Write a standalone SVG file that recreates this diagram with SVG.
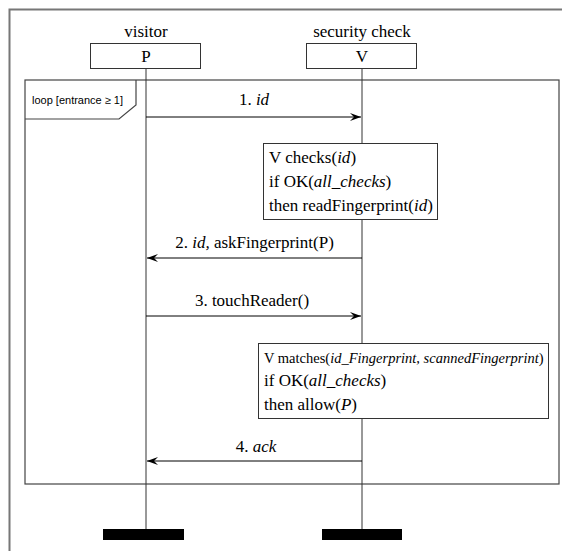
<svg xmlns="http://www.w3.org/2000/svg" width="562" height="551" viewBox="0 0 562 551">
<style>
.t{font-family:"Liberation Serif","Times New Roman",serif;font-size:17px;fill:#000}
.i{font-style:italic}
.box{fill:#fff;stroke:#333;stroke-width:1}
.life{stroke:#333;stroke-width:1;fill:none}
.msg{stroke:#000;stroke-width:1;fill:none;marker-end:url(#ah)}
.frame{fill:none;stroke:#444;stroke-width:1.2}
</style>
<defs>
<marker id="ah" markerWidth="12" markerHeight="8" refX="11" refY="4" orient="auto" markerUnits="userSpaceOnUse">
<path d="M0,0 L11,4 L0,8 L4,4 Z" fill="#000"/>
</marker>
</defs>
<rect width="562" height="551" fill="#fff"/>
<path d="M562,9.5 H9.5 V551" fill="none" stroke="#777" stroke-width="2"/>
<g id="loop">
<rect x="25" y="80" width="534" height="404" class="frame"/>
<path d="M25,119 H119 L136,105 V80" class="frame"/>
<text x="32" y="104" font-family="'Liberation Sans',Arial,sans-serif" font-size="11">loop [entrance ≥ 1]</text>
</g>
<g id="connectors">
<line x1="146" y1="68" x2="146" y2="529" class="life"/>
<line x1="362" y1="68" x2="362" y2="529" class="life"/>
<line x1="146" y1="117" x2="361" y2="117" class="msg"/>
<line x1="362" y1="258" x2="147" y2="258" class="msg"/>
<line x1="146" y1="316" x2="361" y2="316" class="msg"/>
<line x1="362" y1="461" x2="147" y2="461" class="msg"/>
<text x="254" y="105" text-anchor="middle" class="t">1. <tspan class="i">id</tspan></text>
<text x="254.5" y="248" text-anchor="middle" class="t">2. <tspan class="i">id,</tspan> askFingerprint(P)</text>
<text x="252" y="306" text-anchor="middle" class="t">3. touchReader()</text>
<text x="256" y="452" text-anchor="middle" class="t">4. <tspan class="i">ack</tspan></text>
</g>
<g id="P">
<text x="146" y="37" text-anchor="middle" class="t">visitor</text>
<rect x="90.5" y="43.5" width="110" height="25" class="box"/>
<text x="146" y="62" text-anchor="middle" class="t">P</text>
<rect x="103" y="529" width="81" height="11" fill="#000"/>
</g>
<g id="V">
<text x="362" y="37" text-anchor="middle" class="t">security check</text>
<rect x="306.5" y="43.5" width="110" height="25" class="box"/>
<text x="362" y="62" text-anchor="middle" class="t">V</text>
<rect x="322" y="529" width="80" height="11" fill="#000"/>
</g>
<g id="note1">
<rect x="263.5" y="143.5" width="174" height="76" class="box"/>
<text x="269" y="163" class="t">V checks(<tspan class="i">id</tspan>)</text>
<text x="269" y="187" class="t">if OK(<tspan class="i">all_checks</tspan>)</text>
<text x="269" y="211" class="t">then readFingerprint(<tspan class="i">id</tspan>)</text>
</g>
<g id="note2">
<rect x="258.5" y="343.5" width="290" height="75" class="box"/>
<text x="264" y="363" class="t" font-size="14.5" style="font-size:14.5px">V matches(<tspan class="i">id_Fingerprint, scannedFingerprint</tspan>)</text>
<text x="264" y="386" class="t">if OK(<tspan class="i">all_checks</tspan>)</text>
<text x="264" y="410" class="t">then allow(<tspan class="i">P</tspan>)</text>
</g>
</svg>
